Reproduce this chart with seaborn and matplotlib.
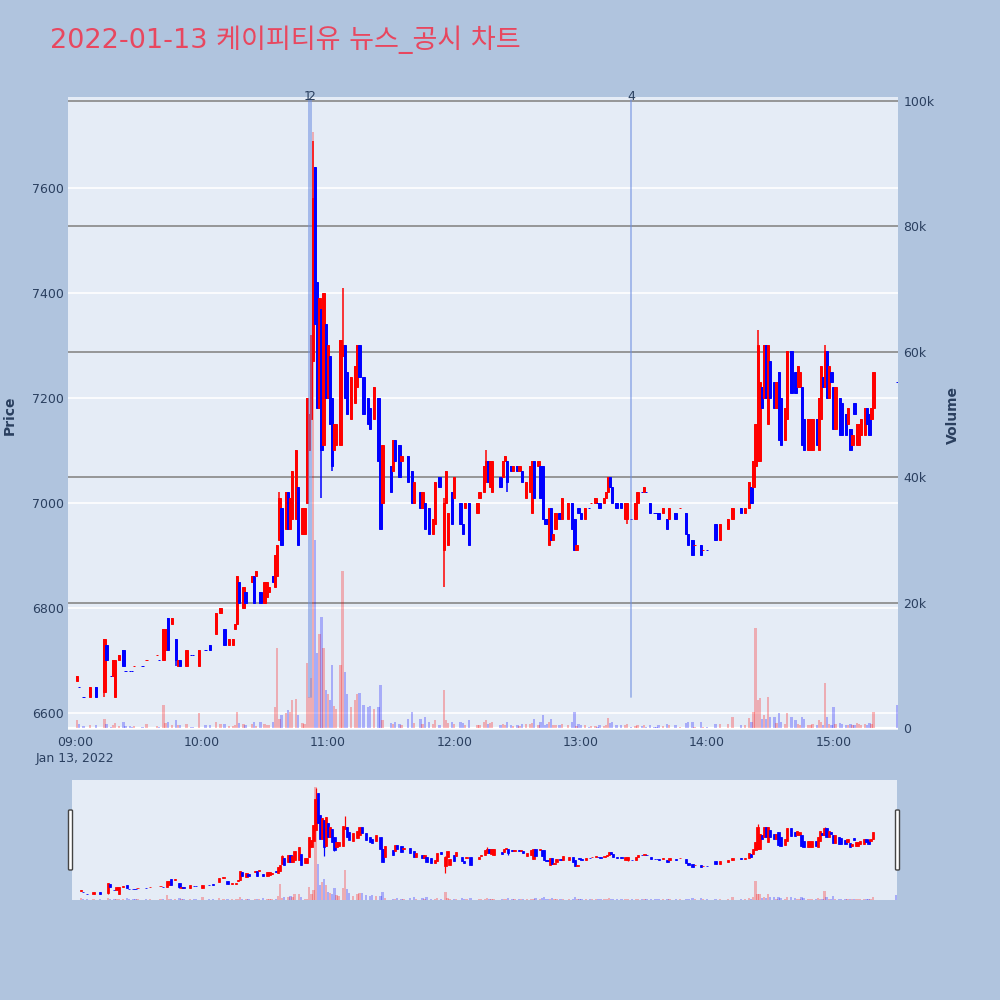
import pandas as pd
import seaborn as sns
import matplotlib.pyplot as plt
from matplotlib.patches import FancyBboxPatch
from matplotlib.transforms import blended_transform_factory

# minutes after 09:00, one entry per 1-minute candle (grouped by hour)
minutes = [1, 2, 4, 7, 10, 14, 15, 17, 18, 19, 21, 23, 24, 26, 27, 28, 32, 34, 39, 40, 42, 43, 44, 46, 48, 49, 50, 53, 55, 56, 59, 62, 64,
           67, 69, 71, 73, 75, 76, 77, 78, 80, 81, 84, 85, 86, 88, 90, 91, 92, 94, 95, 96, 97, 98, 100, 101, 102, 103, 105, 106, 108, 109, 110, 111, 112, 113, 114, 115, 116, 117, 118, 119, 120,
           121, 122, 123, 124, 126, 127, 128, 129, 131, 133, 134, 135, 137, 139, 140, 142, 144, 145, 146, 150, 151, 152, 154, 155, 158, 160, 161, 164, 165, 166, 168, 170, 171, 173, 175, 176, 177, 179, 180,
           183, 184, 185, 187, 191, 192, 194, 195, 196, 197, 198, 202, 203, 204, 205, 207, 208, 210, 211, 212, 214, 216, 217, 218, 220, 221, 222, 223, 224, 225, 226, 227, 228, 230, 231, 234, 236, 237, 238, 239, 240,
           242, 244, 245, 247, 248, 249, 251, 252, 253, 254, 255, 257, 259, 261, 262, 264, 266, 267, 269, 270, 271, 273, 275, 276, 277, 279, 281, 282, 285, 287, 290, 291, 293, 294,
           297, 298, 300, 304, 306, 310, 312, 316, 318, 320, 321, 322, 323, 324, 325, 326, 327, 328, 329, 330, 332, 333, 334, 335, 337, 338, 340, 342, 343, 344, 345, 346, 348, 349, 350, 352, 353, 354,
           355, 356, 357, 358, 359, 360, 361, 363, 364, 366, 367, 368, 369, 370, 371, 372, 373, 375, 376, 377, 378, 379, 390]

opens = [6660, 6650, 6630, 6630, 6650, 6640, 6730, 6670, 6670, 6630, 6700, 6720, 6680, 6680, 6680, 6690, 6690, 6700, 6710, 6700, 6700, 6720, 6780, 6770, 6740, 6690, 6700, 6690, 6710, 6710, 6690, 6720, 6730,
         6750, 6790, 6760, 6730, 6730, 6760, 6770, 6850, 6800, 6830, 6850, 6860, 6860, 6830, 6810, 6820, 6830, 6860, 6840, 6860, 6930, 6990, 6950, 7020, 6950, 6970, 6970, 7030, 6940, 6940, 7000, 7100, 7160, 7270, 7640, 7420, 7180, 7370, 7110, 7340, 7200,
         7280, 7200, 7100, 7110, 7110, 7280, 7300, 7250, 7160, 7190, 7220, 7300, 7240, 7200, 7180, 7160, 7200, 7080, 7000, 7070, 7060, 7120, 7110, 7080, 7090, 7060, 7000, 7020, 6990, 7000, 6990, 6940, 6960, 7050, 6910, 7000, 6920, 7020, 7010,
         7000, 6960, 6990, 7000, 6980, 7010, 7020, 7040, 7080, 7030, 7020, 7050, 7050, 7080, 7080, 7070, 7060, 7070, 7060, 7060, 7010, 7020, 6980, 7080, 7070, 7070, 7070, 6970, 6970, 6920, 6990, 6930, 6950, 6980, 6970, 6970, 7000, 6970, 6910, 6990, 6980,
         6970, 6990, 7000, 7000, 7000, 7000, 7000, 7010, 7020, 7050, 7030, 7000, 7000, 6970, 6970, 6970, 6970, 7000, 7020, 7020, 7020, 7000, 6980, 6980, 6980, 6980, 6970, 6970, 6980, 6990, 6980, 6940, 6930, 6920,
         6920, 6910, 6910, 6960, 6930, 6950, 6970, 6990, 6980, 6990, 7030, 7030, 7070, 7080, 7080, 7220, 7200, 7300, 7150, 7270, 7230, 7180, 7250, 7200, 7120, 7160, 7290, 7250, 7220, 7220, 7220, 7160, 7100, 7100, 7100, 7160, 7100, 7160,
         7240, 7220, 7290, 7200, 7250, 7220, 7140, 7200, 7190, 7170, 7150, 7140, 7110, 7190, 7110, 7110, 7130, 7130, 7180, 7170, 7160, 7180, 7230]

highs = [6670, 6650, 6630, 6650, 6650, 6740, 6730, 6670, 6700, 6700, 6710, 6720, 6680, 6680, 6680, 6690, 6690, 6700, 6710, 6700, 6760, 6760, 6780, 6780, 6740, 6700, 6700, 6720, 6710, 6710, 6720, 6720, 6730,
         6790, 6800, 6760, 6740, 6740, 6770, 6860, 6850, 6840, 6830, 6860, 6860, 6870, 6830, 6850, 6850, 6840, 6860, 6900, 6920, 7020, 6990, 7020, 7020, 7010, 7060, 7100, 7030, 6990, 6990, 7200, 7170, 7320, 7690, 7640, 7420, 7390, 7370, 7400, 7340, 7300,
         7280, 7200, 7150, 7150, 7310, 7410, 7300, 7250, 7240, 7260, 7300, 7300, 7240, 7200, 7180, 7220, 7200, 7080, 7110, 7070, 7120, 7120, 7110, 7090, 7090, 7060, 7040, 7020, 7020, 7000, 6990, 6970, 7040, 7050, 7010, 7060, 6980, 7020, 7050,
         7000, 6960, 7000, 7000, 7000, 7020, 7070, 7100, 7080, 7080, 7080, 7050, 7080, 7090, 7080, 7070, 7070, 7070, 7070, 7060, 7040, 7070, 7080, 7080, 7080, 7070, 7070, 6970, 6970, 6990, 6990, 6940, 6980, 6980, 7010, 7000, 7000, 6970, 6920, 6990, 6980,
         6990, 6990, 7000, 7010, 7000, 7000, 7010, 7020, 7050, 7050, 7030, 7000, 7000, 7000, 7000, 6970, 7000, 7020, 7020, 7030, 7020, 7000, 6980, 6980, 6980, 6990, 6970, 6990, 6980, 6990, 6980, 6940, 6930, 6920,
         6920, 6910, 6910, 6960, 6960, 6970, 6990, 6990, 6990, 7040, 7030, 7080, 7150, 7330, 7230, 7220, 7300, 7300, 7300, 7270, 7230, 7230, 7250, 7200, 7180, 7290, 7290, 7250, 7260, 7250, 7220, 7160, 7160, 7160, 7160, 7160, 7200, 7260,
         7240, 7300, 7290, 7260, 7250, 7220, 7220, 7200, 7190, 7170, 7180, 7140, 7130, 7190, 7150, 7150, 7160, 7180, 7180, 7170, 7180, 7250, 7230]

lows = [6660, 6650, 6630, 6630, 6630, 6630, 6700, 6670, 6670, 6630, 6700, 6690, 6680, 6680, 6680, 6690, 6690, 6700, 6710, 6700, 6700, 6720, 6720, 6770, 6690, 6690, 6690, 6690, 6710, 6710, 6690, 6720, 6720,
        6750, 6790, 6730, 6730, 6730, 6760, 6770, 6810, 6800, 6810, 6850, 6810, 6860, 6810, 6810, 6820, 6830, 6850, 6840, 6860, 6930, 6920, 6950, 6950, 6950, 6970, 6970, 6920, 6940, 6940, 7000, 7100, 7160, 7270, 7340, 7180, 7180, 7010, 7110, 7200, 7200,
        7150, 7060, 7100, 7110, 7110, 7280, 7200, 7170, 7160, 7190, 7220, 7240, 7170, 7150, 7140, 7160, 7080, 6950, 7000, 7020, 7060, 7080, 7050, 7080, 7040, 7000, 7000, 6990, 6990, 6950, 6940, 6940, 6960, 7030, 6840, 7000, 6920, 6960, 7010,
        6960, 6940, 6990, 6920, 6980, 7010, 7020, 7040, 7040, 7030, 7020, 7030, 7050, 7080, 7020, 7060, 7060, 7060, 7060, 7040, 7010, 7020, 6980, 7010, 7070, 7010, 6970, 6960, 6960, 6920, 6930, 6930, 6950, 6970, 6970, 6970, 6950, 6910, 6910, 6980, 6970,
        6970, 6990, 7000, 7000, 7000, 6990, 7000, 7010, 7020, 7030, 7000, 6990, 6990, 6970, 6960, 6970, 6970, 7000, 7020, 7020, 7020, 6980, 6980, 6980, 6970, 6980, 6950, 6970, 6970, 6990, 6940, 6920, 6900, 6920,
        6900, 6910, 6910, 6930, 6930, 6950, 6970, 6980, 6980, 6990, 7000, 7030, 7070, 7080, 7080, 7180, 7200, 7200, 7150, 7200, 7180, 7180, 7120, 7110, 7120, 7160, 7210, 7210, 7220, 7220, 7110, 7100, 7100, 7100, 7100, 7110, 7100, 7160,
        7220, 7220, 7200, 7200, 7230, 7140, 7140, 7130, 7130, 7130, 7150, 7100, 7110, 7170, 7110, 7110, 7130, 7130, 7150, 7130, 7160, 7180, 7230]

closes = [6670, 6650, 6630, 6650, 6630, 6740, 6700, 6670, 6700, 6700, 6710, 6690, 6680, 6680, 6680, 6690, 6690, 6700, 6710, 6700, 6760, 6760, 6720, 6780, 6700, 6700, 6690, 6720, 6710, 6710, 6720, 6720, 6720,
          6790, 6800, 6730, 6740, 6740, 6770, 6860, 6810, 6840, 6810, 6860, 6810, 6870, 6810, 6850, 6850, 6840, 6850, 6900, 6920, 7010, 6920, 7020, 6950, 7010, 7060, 7100, 6920, 6990, 6990, 7200, 7170, 7320, 7580, 7340, 7180, 7390, 7100, 7400, 7200, 7300,
          7150, 7070, 7150, 7150, 7310, 7300, 7200, 7170, 7240, 7260, 7300, 7240, 7170, 7150, 7140, 7220, 7080, 6950, 7110, 7020, 7120, 7080, 7050, 7090, 7040, 7000, 7040, 6990, 7020, 6950, 6940, 6970, 7040, 7030, 7000, 7060, 6980, 6960, 7050,
          6960, 6940, 7000, 6920, 7000, 7020, 7070, 7080, 7040, 7080, 7080, 7030, 7080, 7090, 7040, 7060, 7070, 7060, 7070, 7040, 7040, 7070, 7080, 7010, 7080, 7010, 6970, 6960, 6960, 6990, 6930, 6940, 6980, 6970, 7010, 7000, 6950, 6910, 6920, 6980, 6970,
          6990, 6990, 7000, 7010, 7000, 6990, 7010, 7020, 7050, 7030, 7000, 6990, 6990, 7000, 7000, 6970, 7000, 7020, 7020, 7030, 7020, 6980, 6980, 6980, 6970, 6990, 6950, 6990, 6970, 6990, 6940, 6920, 6900, 6920,
          6900, 6910, 6910, 6930, 6960, 6970, 6990, 6980, 6990, 7040, 7000, 7080, 7150, 7300, 7230, 7180, 7300, 7200, 7300, 7200, 7180, 7230, 7120, 7110, 7180, 7290, 7210, 7210, 7260, 7250, 7110, 7100, 7160, 7160, 7160, 7110, 7200, 7260,
          7220, 7290, 7200, 7260, 7230, 7140, 7220, 7130, 7130, 7130, 7180, 7100, 7130, 7170, 7150, 7150, 7160, 7180, 7150, 7130, 7180, 7250, 7230]

volumes = [1200, 600, 300, 500, 400, 1400, 600, 200, 500, 800, 300, 1000, 300, 300, 200, 300, 200, 600, 300, 200, 3600, 800, 900, 400, 1300, 400, 500, 600, 200, 200, 2400, 400, 500,
           1000, 600, 700, 300, 300, 500, 2500, 800, 700, 400, 600, 900, 300, 1000, 600, 500, 400, 900, 3300, 12800, 1500, 2000, 2400, 2800, 2600, 4500, 4600, 2000, 800, 600, 10400, 5000, 8000, 95000, 30000, 12000, 15000, 17700, 12700, 6000, 5500,
           4500, 10000, 3500, 3000, 10000, 25000, 9000, 5400, 3400, 4400, 5400, 5600, 3600, 3400, 3500, 3000, 3300, 6800, 1300, 800, 700, 1000, 700, 500, 1500, 2600, 800, 1500, 600, 1800, 900, 600, 1200, 500, 6000, 1200, 800, 900, 600,
           1000, 800, 400, 1200, 500, 400, 900, 1300, 700, 800, 900, 500, 600, 400, 1000, 400, 300, 500, 300, 600, 700, 600, 800, 1500, 400, 1000, 2000, 500, 600, 900, 1500, 400, 500, 400, 600, 500, 900, 2600, 300, 600, 400,
           500, 200, 300, 300, 200, 400, 300, 500, 1600, 800, 900, 400, 400, 500, 600, 200, 300, 400, 300, 400, 200, 500, 200, 200, 400, 300, 600, 400, 400, 200, 800, 900, 1000, 200,
           1000, 200, 200, 600, 700, 600, 1800, 400, 500, 1600, 900, 2500, 16000, 4500, 4800, 1500, 2000, 1500, 5000, 1800, 1800, 800, 2400, 1000, 600, 2400, 1800, 1300, 600, 500, 1800, 1500, 500, 400, 600, 400, 1200, 900,
           500, 7200, 1800, 700, 500, 3400, 600, 800, 600, 500, 400, 700, 500, 400, 800, 600, 500, 600, 500, 800, 700, 2600, 3700]

# news / disclosure markers (minute after 09:00, label)
event_minutes = [111, 112, 264]
event_labels = ['1', '2', '4']

hour_ticks = [0, 60, 120, 180, 240, 300, 360]
hour_labels = ['09:00\nJan 13, 2022', '10:00', '11:00', '12:00', '13:00', '14:00', '15:00']
price_ticks = [6600, 6800, 7000, 7200, 7400, 7600]
volume_ticks = [0, 20000, 40000, 60000, 80000, 100000]
volume_labels = ['0', '20k', '40k', '60k', '80k', '100k']

df = pd.DataFrame({'minute': minutes, 'open': opens, 'high': highs,
                   'low': lows, 'close': closes, 'volume': volumes})
prev_close = df['close'].shift(1)
df['up'] = (df['close'] > df['open']) | ((df['close'] == df['open']) & (df['close'] > prev_close))
df['color'] = df['up'].map({True: '#FF0000', False: '#0000FF'})
df['body_low'] = df[['open', 'close']].min(axis=1)
df['body_h'] = (df['close'] - df['open']).abs()

sns.set_theme(style='white')
plt.rcParams['font.family'] = ['DejaVu Sans', 'Noto Sans CJK KR']

TXT = '#2a3f5f'
PLOT_BG = '#E5ECF6'
PRICE_LIM = (6567.6, 7773.3)
VOL_LIM = (-319, 100645)
X_LIM = (-3.3, 390.6)

fig = plt.figure(figsize=(10, 10), dpi=100, facecolor='#B0C4DE')


def draw_panel(ax_v, ax_p, scale=1.0):
    ax_v.set_facecolor(PLOT_BG)
    ax_v.bar(df['minute'], df['volume'], width=1.1, color=df['color'], alpha=0.27,
             linewidth=0, zorder=2)
    ax_p.vlines(df['minute'], df['low'], df['high'], colors=df['color'], lw=1.1 * scale, zorder=3)
    ax_p.bar(df['minute'], df['body_h'], bottom=df['body_low'], width=1.1, color=df['color'],
             edgecolor=df['color'], linewidth=0.7 * scale, zorder=4)
    ax_v.set_xlim(*X_LIM)
    ax_v.set_ylim(*VOL_LIM)
    ax_p.set_ylim(*PRICE_LIM)
    for a in (ax_v, ax_p):
        for s in a.spines.values():
            s.set_visible(False)


# main chart: volume on the host axes (right), price on the twin (left)
ax_v = fig.add_axes([0.068, 0.270, 0.830, 0.633])
ax_p = ax_v.twinx()

price_tf = blended_transform_factory(ax_v.transAxes, ax_p.transData)
for p in price_ticks:
    ax_v.plot([0, 1], [p, p], transform=price_tf, color='white', lw=1.2, zorder=0.5)
ax_v.axhline(0, color='white', lw=1.6, zorder=0.6)
for v in volume_ticks[1:]:
    ax_v.axhline(v, color='#8f8f8f', lw=1.3, zorder=0.7)

draw_panel(ax_v, ax_p)

ax_v.yaxis.tick_right()
ax_v.set_yticks(volume_ticks)
ax_v.set_yticklabels(volume_labels)
ax_p.yaxis.tick_left()
ax_p.set_yticks(price_ticks)
ax_v.set_xticks(hour_ticks)
ax_v.set_xticklabels(hour_labels, linespacing=1.3)
ax_v.tick_params(axis='both', length=0, labelsize=9, colors=TXT, pad=4)
ax_p.tick_params(axis='y', length=0, labelsize=9, colors=TXT, pad=3)
ax_v.grid(False)
ax_p.grid(False)

for m, lab in zip(event_minutes, event_labels):
    ax_p.axvline(m, ymin=0.052, ymax=0.995, color='#6f8fe0', alpha=0.6, lw=1.3, zorder=5)
    ax_p.text(m - 0.5 if lab == '1' else m, 1.0, lab,
              transform=blended_transform_factory(ax_p.transData, ax_p.transAxes),
              ha='center', va='center', fontsize=9, color=TXT, zorder=6)

# range slider
ax_sv = fig.add_axes([0.072, 0.100, 0.825, 0.120])
ax_sp = ax_sv.twinx()
draw_panel(ax_sv, ax_sp, scale=0.8)
for a in (ax_sv, ax_sp):
    a.set_xticks([])
    a.set_yticks([])
    a.grid(False)
for hx in (0.0685, 0.8955):
    fig.patches.append(FancyBboxPatch((hx, 0.130), 0.004, 0.060, boxstyle='round,pad=0,rounding_size=0.001',
                                      transform=fig.transFigure, facecolor='white', edgecolor='#444444', lw=1.0))

fig.text(0.050, 0.960, '2022-01-13 케이피티유 뉴스_공시 차트', fontsize=19.5, color='#E8475F',
         ha='left', va='center')
fig.text(0.010, 0.585, 'Price', rotation=90, ha='center', va='center', fontsize=10,
         fontweight='bold', color=TXT)
fig.text(0.953, 0.585, 'Volume', rotation=90, ha='center', va='center', fontsize=10,
         fontweight='bold', color=TXT)

fig.savefig('out.png', dpi=100, facecolor=fig.get_facecolor())
